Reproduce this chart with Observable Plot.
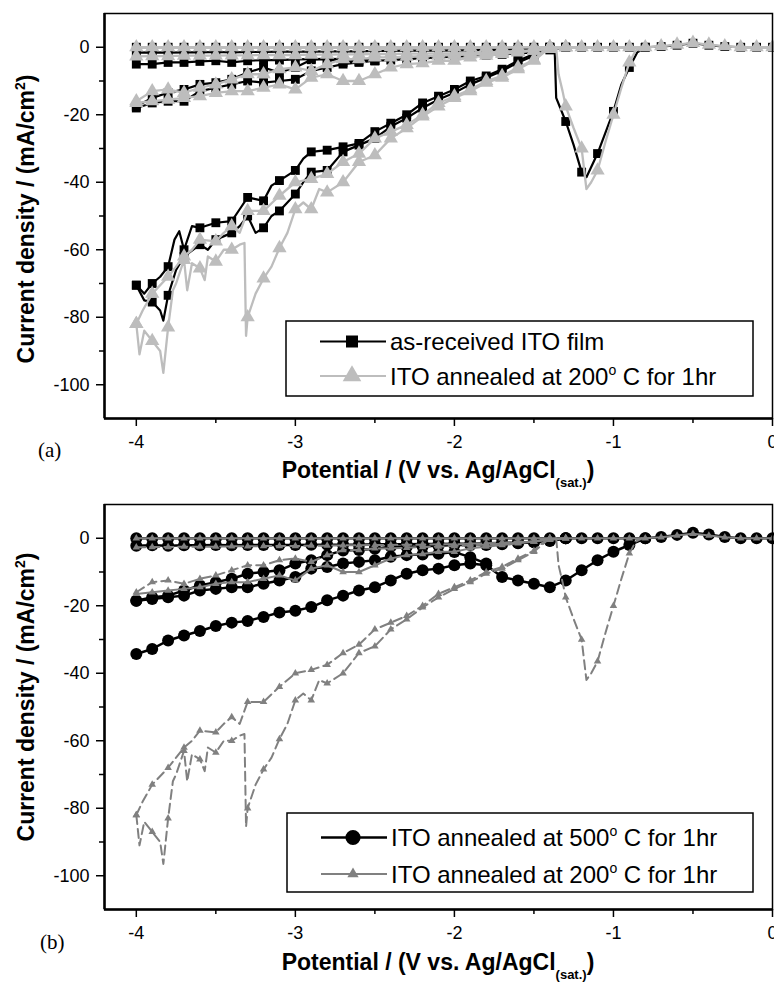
<!DOCTYPE html>
<html><head><meta charset="utf-8">
<script src="https://cdn.jsdelivr.net/npm/d3@7"></script>
<script src="https://cdn.jsdelivr.net/npm/@observablehq/plot@0.6"></script>
<style>html,body{margin:0;padding:0;background:#fff;overflow:hidden}#chart svg{display:block}</style>
</head><body><div id="chart"></div>
<script>
// ---------- axis ticks ----------
const majorX = [-4, -3, -2, -1, 0];
const minorX = [-3.5, -2.5, -1.5, -0.5];
const majorY = [0, -20, -40, -60, -80, -100];
const minorY = [-10, -30, -50, -70, -90];

// potential grid (V) on which markers sit
const potentialGrid = [-4.0,-3.9,-3.8,-3.7,-3.6,-3.5,-3.4,-3.3,-3.2,-3.1,-3.0,-2.9,-2.8,-2.7,-2.6,-2.5,-2.4,-2.3,-2.2,-2.1,-2.0,-1.9,-1.8,-1.7,-1.6,-1.5,-1.4,-1.3,-1.2,-1.1,-1.0,-0.9,-0.8,-0.7,-0.6,-0.5,-0.4,-0.3,-0.2,-0.1,0.0];

// ---------- as-received ITO film (panel a, black squares) ----------
const arTopY   = [0,0,0,0,0,0,0,0,0,0,0,0,0,0,0,0,0,0,0,0,0,0,0,0,0,0,0,0,0,0,0,0,0,0.2,0.6,1.2,0.6,0.2,0,0,0];
const arRowY   = [-1.6,-1.5,-1.6,-1.5,-1.5,-1.4,-1.5,-1.4,-1.4,-1.3,-1.3,-1.3,-1.2,-1.2,-1.2,-1.1,-1.1,-1.0,-1.0,-1.0,-0.9,-0.9,-0.8,-0.8,-0.7,-0.6,-0.4,0];
const arSmallY = [-5,-5,-4.5,-4.5,-4.2,-4,-4.5,-4,-3.8,-3.8,-3.6,-3.5,-3.4,-3.5,-3.7,-4,-3.8,-3.5,-3.2,-3,-2.8,-2.6,-2.4,-2.1,-1.8,-1.5,-0.8,0];
const arMid1Y  = [-17.5,-15,-13.5,-12.5,-11,-10.5,-9.5,-7.5,-6,-7.5,-6,-3.7,-3.5,-4.5,-4.2,-4];
const arMid2Y  = [-18,-16.5,-16,-16,-13,-12,-11,-10,-10.5,-10,-9.5,-7,-6,-5,-4.5,-4];
const arBig1 = [[-4,-70.5],[-3.95,-73],[-3.9,-70],[-3.85,-68],[-3.8,-65],[-3.76,-57],[-3.73,-54.5],[-3.7,-60],[-3.65,-53],[-3.6,-53.5],[-3.5,-52],[-3.4,-51.5],[-3.35,-48],[-3.3,-44.5],[-3.25,-45],[-3.2,-45.5],[-3.15,-41],[-3.1,-39.5],[-3.0,-36.5],[-2.95,-33],[-2.9,-31],[-2.8,-30.5],[-2.7,-29.5],[-2.6,-28.5],[-2.5,-25],[-2.4,-22.5],[-2.3,-20],[-2.2,-16.5],[-2.1,-14.5],[-2.0,-12.5],[-1.9,-10],[-1.8,-8.5],[-1.7,-6.5],[-1.6,-4],[-1.5,-2],[-1.45,-1],[-1.4,0]];
const arBig2 = [[-4,-70.5],[-3.95,-75],[-3.9,-75.5],[-3.85,-78],[-3.83,-81],[-3.8,-73.5],[-3.75,-66],[-3.7,-62],[-3.6,-58.5],[-3.55,-60],[-3.5,-57],[-3.4,-55],[-3.35,-53],[-3.3,-50],[-3.25,-55],[-3.2,-53.5],[-3.15,-50],[-3.1,-48.5],[-3.05,-46],[-3.0,-43.5],[-2.95,-40],[-2.9,-37],[-2.8,-36.5],[-2.7,-31],[-2.6,-29],[-2.5,-27],[-2.4,-23.5],[-2.3,-21],[-2.2,-18],[-2.1,-15.5],[-2.0,-13.5],[-1.9,-11],[-1.8,-9],[-1.7,-7],[-1.6,-4.5],[-1.5,-2.5],[-1.45,-1],[-1.4,0]];
const arPeak = [[-1.37,0],[-1.36,-15],[-1.3,-22],[-1.25,-29],[-1.2,-37],[-1.17,-38.5],[-1.1,-31.5],[-1.0,-19],[-0.95,-11],[-0.9,-6],[-0.85,-1.5],[-0.8,0]];

// ---------- ITO annealed at 200 C (gray triangles, both panels) ----------
const g200TopY   = [0,0,0,0,0,0,0,0,0,0,0,0,0,0,0,0,0,0,0,0,0,0,0,0,0,0,0,0,0,0,0,0,0,0.3,0.8,1.3,0.8,0.3,0,0,0];
const g200RowY   = [-2.7,-2.6,-2.6,-2.5,-2.5,-2.5,-2.4,-2.4,-2.3,-2.3,-2.3,-2.2,-2.2,-2.1,-2.1,-2.0,-2.0,-1.9,-1.9,-1.8,-1.8,-1.6,-1.5,-1.3,-1.1,-0.9,-0.5,0];
const g200Mid1Y  = [-16,-13,-12.5,-13.5,-12,-11,-9.5,-8,-8,-6.5,-6,-7,-5,-3.5,-3.5,-3,-3,-2.8,-2.6,-2.5,-2.3,-2.1,-1.9,-1.6,-1.3,-1,-0.5,0];
const g200Mid2Y  = [-16.5,-16,-15.5,-15,-14.5,-13.5,-13,-13,-12,-11,-12.5,-9,-8,-10,-10,-8,-6,-5,-4.7,-4,-4,-3,-2.5,-2,-1.5,-1,0];
const g200Big1 = [[-4,-82],[-3.96,-78],[-3.9,-73],[-3.8,-68],[-3.75,-65],[-3.7,-62],[-3.65,-60],[-3.6,-57],[-3.5,-57.5],[-3.45,-55],[-3.4,-53],[-3.35,-55],[-3.3,-48.5],[-3.2,-48.5],[-3.1,-44],[-3.0,-40],[-2.9,-39],[-2.8,-37.5],[-2.7,-34],[-2.6,-31.5],[-2.5,-27],[-2.4,-25],[-2.3,-23],[-2.2,-20],[-2.1,-16.5],[-2.0,-14.5],[-1.9,-12.5],[-1.8,-10],[-1.7,-8.5],[-1.6,-6],[-1.5,-3.7],[-1.45,-1.5],[-1.4,0]];
const g200Big2 = [[-4,-82],[-3.98,-91],[-3.95,-84],[-3.9,-87],[-3.85,-90],[-3.83,-96.5],[-3.8,-83],[-3.77,-72],[-3.75,-70],[-3.7,-63],[-3.68,-72],[-3.65,-64],[-3.6,-65.5],[-3.57,-69],[-3.55,-62],[-3.5,-63.5],[-3.45,-60],[-3.4,-60],[-3.35,-58.5],[-3.32,-58],[-3.31,-85.5],[-3.3,-80],[-3.25,-73],[-3.2,-68.5],[-3.15,-65],[-3.1,-59.5],[-3.05,-55],[-3.0,-48],[-2.95,-46],[-2.9,-48],[-2.85,-42],[-2.8,-43],[-2.7,-40],[-2.6,-34],[-2.5,-32],[-2.4,-27],[-2.3,-24],[-2.2,-20.5],[-2.1,-17.5],[-2.0,-15],[-1.9,-13],[-1.8,-10.5],[-1.7,-9],[-1.6,-6.5],[-1.5,-4],[-1.4,0]];
const g200Peak = [[-1.36,0],[-1.345,-8],[-1.32,-13],[-1.3,-17.5],[-1.25,-24],[-1.2,-30],[-1.17,-42],[-1.14,-40],[-1.1,-36.5],[-1.05,-28],[-1.0,-20],[-0.95,-12],[-0.9,-4.5],[-0.86,-1],[-0.82,0]];

// ---------- ITO annealed at 500 C (panel b, black circles) ----------
const b500TopY  = [0,0,0,0,0,0,0,0,0,0,0,0,0,0,0,0,0,0,0,0,0,0,0,0,0,0,0,0,0,0,0,0,0,0.4,1,1.6,1.1,0.4,0,0,0];
const b500RowY  = [-2.2,-2.1,-2.2,-2.1,-2.1,-2,-2.1,-2,-2,-2,-2,-1.9,-1.9,-1.9,-1.9,-1.8,-1.8,-1.8,-1.7,-1.7,-1.6,-1.6,-1.5,-1.4,-1.3,-1.1,-0.7,0];
const b500Mid1Y = [-18.5,-18,-17.5,-17,-15.5,-15,-14.5,-14.5,-13.5,-12.5,-11.5,-9,-8.5,-7.5,-7,-6.5,-5.5,-5,-4.8,-4.6,-4.1,-5.6,-7.5];
const b500Mid2Y = [-18.5,-17.5,-17,-15.5,-14,-13,-12,-10.5,-10,-9.5,-7.5,-6.5,-5,-3.6,-3.5,-3.1,-2.5,-2.6,-2.4,-2.2,-2,-2,-2,-1.8,-1.5,-1.2,-0.8,0];
const b500LowY  = [-34.3,-32.8,-30.3,-28.8,-27.5,-26,-25,-24.5,-23.3,-22,-21.5,-20.4,-18.4,-17,-15.5,-14.5,-12.5,-10.5,-9.5,-9,-8,-7.5,-8,-11.5,-12.5,-13.5,-14.5,-12.5,-9.5,-6.5,-4,-2,0];

// ---------- helpers ----------
const onGrid = (ys) => ys.map((y, i) => [potentialGrid[i], y]);
const asReceived = {top: onGrid(arTopY), row: onGrid(arRowY), small: onGrid(arSmallY), mid1: onGrid(arMid1Y), mid2: onGrid(arMid2Y), big1: arBig1, big2: arBig2, peak: arPeak};
const annealed200 = {top: onGrid(g200TopY), row: onGrid(g200RowY), mid1: onGrid(g200Mid1Y), mid2: onGrid(g200Mid2Y), big1: g200Big1, big2: g200Big2, peak: g200Peak};
const annealed500 = {top: onGrid(b500TopY), row: onGrid(b500RowY), mid1: onGrid(b500Mid1Y), mid2: onGrid(b500Mid2Y), low: onGrid(b500LowY)};

function toRows(sample, curves) {
  return Object.entries(curves).flatMap(([k, pts]) => pts.map(([x, y]) => ({sample, curve: sample + "-" + k, key: k, x, y})));
}
const isMarker = d => Math.abs(d.x * 10 - Math.round(d.x * 10)) < 1e-6;

const FONT = '"Liberation Sans", Arial, Helvetica, sans-serif';
const W = 774, H = 492;

function basePlot(marginTop, marginBottom, seriesMarks) {
  return Plot.plot({
    width: W, height: H,
    marginTop, marginBottom, marginLeft: 104, marginRight: 2,
    style: {fontFamily: FONT, fontSize: "18px", background: "white", color: "black", overflow: "visible"},
    x: {domain: [-4.2, 0], label: null},
    y: {domain: [-110, 10], label: null},
    marks: [
      ...seriesMarks,
      Plot.axisX({ticks: majorX, tickSize: 8, tickPadding: 9, tickFormat: d => String(d), label: null, strokeWidth: 1.5, fontSize: 18}),
      Plot.axisX({ticks: minorX, tickSize: 5, tickFormat: () => "", label: null, strokeWidth: 1.5}),
      Plot.axisY({ticks: majorY, tickSize: 8, tickPadding: 7, tickFormat: d => String(d), label: null, strokeWidth: 1.5, fontSize: 18}),
      Plot.axisY({ticks: minorY, tickSize: 5, tickFormat: () => "", label: null, strokeWidth: 1.5}),
      Plot.frame({stroke: "black", strokeWidth: 1.5}),
      Plot.ruleX([-4.2], {stroke: "black", strokeWidth: 2.5}),
      Plot.ruleY([-110], {stroke: "black", strokeWidth: 2.5})
    ]
  });
}

function richText(parent, parts, attrs) {
  const t = parent.append("text");
  Object.entries(attrs).forEach(([k, v]) => t.attr(k, v));
  let shift = 0;
  parts.forEach(p => {
    const target = p.dy || 0;
    const ts = t.append("tspan").text(p.t).attr("dy", target - shift);
    shift = target;
    if (p.size) ts.attr("font-size", p.size);
  });
  return t;
}

function decorate(svg, cfg) {
  const s = d3.select(svg);
  // y label
  richText(s, [{t: "Current density / (mA/cm"}, {t: "2", size: 14, dy: -9}, {t: ")"}], {
    transform: `translate(34,${cfg.ylabelY}) rotate(-90)`, "text-anchor": "middle",
    "font-family": FONT, "font-weight": "bold", "font-size": 23, fill: "black"
  });
  // x label
  richText(s, [{t: "Potential / (V vs. Ag/AgCl"}, {t: "(sat.)", size: 13, dy: 9}, {t: ")"}], {
    x: 438, y: 478, "text-anchor": "middle",
    "font-family": FONT, "font-weight": "bold", "font-size": 23, fill: "black"
  });
  // panel tag
  s.append("text").attr("x", cfg.tagX).attr("y", 457).text(cfg.tag).attr("text-anchor", "start")
    .attr("font-family", '"Liberation Serif", "Times New Roman", serif').attr("font-size", 21).attr("fill", "black");
  // legend
  const L = cfg.legend;
  const g = s.append("g");
  g.append("rect").attr("x", L.x).attr("y", L.y).attr("width", L.w).attr("height", L.h)
    .attr("fill", "white").attr("stroke", "black").attr("stroke-width", 1.5);
  L.entries.forEach(e => {
    g.append("line").attr("x1", L.x + 34).attr("x2", L.x + 100).attr("y1", e.y).attr("y2", e.y)
      .attr("stroke", e.color).attr("stroke-width", e.sw);
    g.append("path").attr("d", d3.symbol().type(e.symbol).size(e.size)())
      .attr("transform", `translate(${L.x + 66},${e.y})`).attr("fill", e.color);
    richText(g, e.parts, {x: L.x + 104, y: e.y + 8.5, "text-anchor": "start", "font-family": FONT, "font-size": 24, fill: "black"});
  });
}

const chart = document.getElementById("chart");

// ---------- panel (a) ----------
{
  const blackRows = toRows("ar", asReceived);
  const grayRows = toRows("g200", annealed200);
  const svg = basePlot(13, 74, [
    Plot.line(blackRows, {x: "x", y: "y", z: "curve", stroke: "#000", strokeWidth: 2.2}),
    Plot.dot(blackRows.filter(isMarker), {x: "x", y: "y", symbol: "square", r: 5, fill: "#000"}),
    Plot.line(grayRows, {x: "x", y: "y", z: "curve", stroke: "#bdbdbd", strokeWidth: 2.3}),
    Plot.dot(grayRows.filter(isMarker), {x: "x", y: "y", symbol: "triangle", r: 5.3, fill: "#bdbdbd"})
  ]);
  decorate(svg, {
    ylabelY: 219, tag: "(a)", tagX: 38,
    legend: {x: 286, y: 321, w: 467, h: 75, entries: [
      {y: 341.5, color: "#000", sw: 2, symbol: d3.symbolSquare, size: 144, parts: [{t: "as-received ITO film"}]},
      {y: 376, color: "#bdbdbd", sw: 2.2, symbol: d3.symbolTriangle, size: 150, parts: [{t: "ITO annealed at 200"}, {t: "o", size: 14, dy: -10}, {t: " C for 1hr"}]}
    ]}
  });
  chart.appendChild(svg);
}

// ---------- panel (b) ----------
{
  const blackRows = toRows("b500", annealed500);
  const grayRows = toRows("g200", annealed200);
  const solidKeys = new Set(["top", "mid2"]);
  const svg = basePlot(12, 75, [
    Plot.line(blackRows, {x: "x", y: "y", z: "curve", stroke: "#000", strokeWidth: 2.5}),
    Plot.dot(blackRows.filter(isMarker), {x: "x", y: "y", symbol: "circle", r: 6, fill: "#000"}),
    Plot.line(grayRows.filter(d => solidKeys.has(d.key)), {x: "x", y: "y", z: "curve", stroke: "#808080", strokeWidth: 2}),
    Plot.line(grayRows.filter(d => !solidKeys.has(d.key)), {x: "x", y: "y", z: "curve", stroke: "#808080", strokeWidth: 2, strokeDasharray: "9,5"}),
    Plot.dot(grayRows.filter(isMarker), {x: "x", y: "y", symbol: "triangle", r: 2.8, fill: "#808080"})
  ]);
  decorate(svg, {
    ylabelY: 205, tag: "(b)", tagX: 40,
    legend: {x: 287, y: 321, w: 466, h: 79, entries: [
      {y: 345.5, color: "#000", sw: 2.5, symbol: d3.symbolCircle, size: 180, parts: [{t: "ITO annealed at 500"}, {t: "o", size: 14, dy: -10}, {t: " C for 1hr"}]},
      {y: 382, color: "#808080", sw: 2, symbol: d3.symbolTriangle, size: 55, parts: [{t: "ITO annealed at 200"}, {t: "o", size: 14, dy: -10}, {t: " C for 1hr"}]}
    ]}
  });
  chart.appendChild(svg);
}
</script></body></html>
